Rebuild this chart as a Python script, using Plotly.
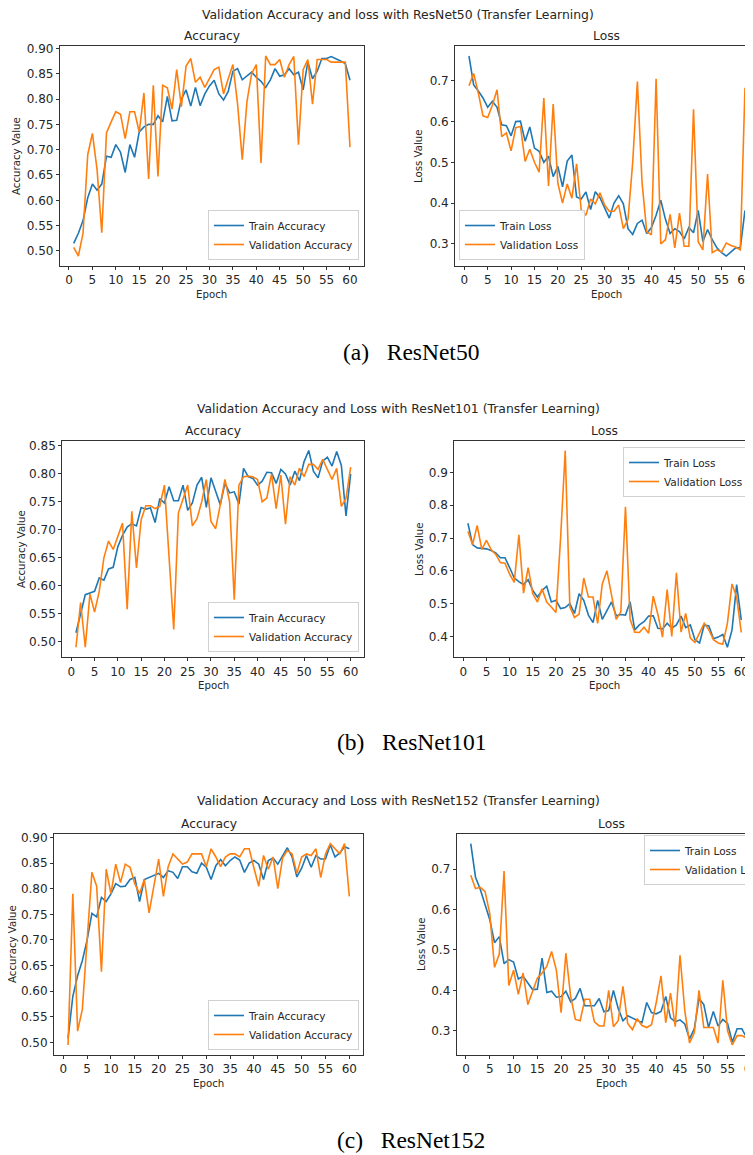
import plotly.graph_objects as go

# ---------------- data ----------------
epochs = list(range(1, 61))

r50_train_acc = [0.515, 0.535, 0.56, 0.605, 0.632, 0.62, 0.632, 0.687, 0.685, 0.71,
                 0.695, 0.655, 0.71, 0.685, 0.735, 0.745, 0.75, 0.75, 0.767, 0.755,
                 0.805, 0.757, 0.758, 0.80, 0.818, 0.786, 0.823, 0.787, 0.81, 0.826,
                 0.837, 0.81, 0.798, 0.815, 0.855, 0.86, 0.838, 0.845, 0.853, 0.843,
                 0.835, 0.823, 0.838, 0.86, 0.845, 0.848, 0.86, 0.848, 0.853, 0.818,
                 0.873, 0.84, 0.855, 0.88, 0.88, 0.884, 0.88, 0.875, 0.87, 0.837]
r50_val_acc = [0.507, 0.49, 0.535, 0.69, 0.732, 0.66, 0.536, 0.733, 0.755, 0.775,
               0.77, 0.722, 0.775, 0.775, 0.735, 0.812, 0.642, 0.827, 0.647, 0.827,
               0.822, 0.78, 0.858, 0.785, 0.865, 0.88, 0.833, 0.843, 0.823, 0.84,
               0.858, 0.863, 0.81, 0.84, 0.868, 0.79, 0.68, 0.795, 0.85, 0.868,
               0.674, 0.885, 0.868, 0.868, 0.878, 0.843, 0.868, 0.884, 0.71, 0.858,
               0.878, 0.79, 0.878, 0.878, 0.878, 0.873, 0.873, 0.873, 0.873, 0.705]
r50_train_loss = [0.761, 0.69, 0.675, 0.658, 0.635, 0.65, 0.635, 0.592, 0.59, 0.565,
                  0.60, 0.601, 0.552, 0.587, 0.535, 0.527, 0.50, 0.515, 0.465, 0.49,
                  0.44, 0.503, 0.518, 0.415, 0.41, 0.427, 0.384, 0.428, 0.413, 0.39,
                  0.363, 0.40, 0.418, 0.398, 0.337, 0.323, 0.35, 0.358, 0.325, 0.34,
                  0.37, 0.407, 0.36, 0.325, 0.337, 0.33, 0.312, 0.34, 0.327, 0.382,
                  0.305, 0.335, 0.31, 0.29, 0.278, 0.27, 0.28, 0.29, 0.29, 0.382]
r50_val_loss = [0.688, 0.718, 0.67, 0.614, 0.61, 0.64, 0.678, 0.563, 0.572, 0.528,
                0.585, 0.588, 0.502, 0.532, 0.50, 0.476, 0.658, 0.442, 0.643, 0.448,
                0.40, 0.447, 0.412, 0.496, 0.383, 0.37, 0.41, 0.398, 0.425, 0.395,
                0.38, 0.38, 0.395, 0.337, 0.36, 0.50, 0.698, 0.45, 0.33, 0.322,
                0.705, 0.30, 0.31, 0.372, 0.29, 0.375, 0.294, 0.294, 0.63, 0.305,
                0.285, 0.471, 0.278, 0.285, 0.28, 0.302, 0.296, 0.292, 0.285, 0.683]

r101_train_acc = [0.516, 0.55, 0.584, 0.587, 0.59, 0.614, 0.61, 0.63, 0.633, 0.67,
                  0.69, 0.705, 0.711, 0.707, 0.74, 0.737, 0.739, 0.713, 0.756, 0.748,
                  0.777, 0.752, 0.752, 0.78, 0.735, 0.748, 0.78, 0.794, 0.74, 0.793,
                  0.77, 0.745, 0.783, 0.766, 0.768, 0.746, 0.81, 0.795, 0.792, 0.78,
                  0.787, 0.803, 0.802, 0.783, 0.808, 0.80, 0.78, 0.805, 0.788, 0.822,
                  0.842, 0.805, 0.793, 0.823, 0.83, 0.814, 0.84, 0.815, 0.725, 0.80]
r101_val_acc = [0.49, 0.57, 0.49, 0.585, 0.553, 0.59, 0.65, 0.68, 0.665, 0.69,
                0.712, 0.558, 0.733, 0.632, 0.718, 0.743, 0.743, 0.738, 0.742, 0.78,
                0.65, 0.522, 0.73, 0.755, 0.78, 0.707, 0.72, 0.75, 0.79, 0.715,
                0.702, 0.745, 0.79, 0.75, 0.575, 0.78, 0.795, 0.796, 0.795, 0.79,
                0.75, 0.757, 0.80, 0.738, 0.798, 0.71, 0.795, 0.78, 0.81, 0.795,
                0.817, 0.817, 0.808, 0.826, 0.807, 0.79, 0.81, 0.742, 0.756, 0.812]
r101_train_loss = [0.745, 0.68, 0.67, 0.668, 0.667, 0.662, 0.655, 0.64, 0.64, 0.61,
                   0.578, 0.567, 0.558, 0.573, 0.54, 0.52, 0.54, 0.553, 0.505, 0.51,
                   0.485, 0.488, 0.50, 0.47, 0.53, 0.51, 0.465, 0.442, 0.51, 0.452,
                   0.478, 0.505, 0.463, 0.467, 0.465, 0.505, 0.42, 0.435, 0.445, 0.462,
                   0.463, 0.425, 0.423, 0.44, 0.425, 0.435, 0.462, 0.427, 0.435, 0.39,
                   0.38, 0.435, 0.432, 0.393, 0.398, 0.406, 0.367, 0.42, 0.558, 0.45]
r101_val_loss = [0.72, 0.68, 0.738, 0.665, 0.693, 0.665, 0.65, 0.625, 0.623, 0.59,
                 0.565, 0.71, 0.532, 0.61, 0.53, 0.505, 0.545, 0.505, 0.49, 0.473,
                 0.70, 0.967, 0.49, 0.458, 0.468, 0.578, 0.52, 0.52, 0.44, 0.56,
                 0.60, 0.53, 0.452, 0.475, 0.795, 0.452, 0.413, 0.412, 0.428, 0.41,
                 0.523, 0.467, 0.398, 0.543, 0.40, 0.594, 0.413, 0.47, 0.395, 0.382,
                 0.41, 0.44, 0.42, 0.39, 0.38, 0.376, 0.44, 0.56, 0.52, 0.412]

r152_train_acc = [0.508, 0.59, 0.63, 0.66, 0.70, 0.752, 0.745, 0.783, 0.775, 0.79,
                  0.81, 0.804, 0.805, 0.818, 0.822, 0.775, 0.818, 0.822, 0.825, 0.83,
                  0.822, 0.835, 0.832, 0.82, 0.843, 0.843, 0.833, 0.83, 0.85, 0.842,
                  0.818, 0.845, 0.857, 0.845, 0.855, 0.862, 0.856, 0.832, 0.85, 0.855,
                  0.848, 0.818, 0.855, 0.86, 0.848, 0.863, 0.88, 0.862, 0.823, 0.84,
                  0.865, 0.842, 0.865, 0.858, 0.858, 0.886, 0.862, 0.87, 0.882, 0.878]
r152_val_acc = [0.495, 0.79, 0.522, 0.565, 0.70, 0.832, 0.805, 0.638, 0.838, 0.79,
                0.848, 0.812, 0.848, 0.842, 0.81, 0.79, 0.818, 0.753, 0.805, 0.858,
                0.785, 0.843, 0.868, 0.858, 0.848, 0.852, 0.868, 0.868, 0.868, 0.843,
                0.878, 0.862, 0.843, 0.862, 0.868, 0.868, 0.862, 0.878, 0.878, 0.84,
                0.805, 0.865, 0.838, 0.862, 0.80, 0.86, 0.875, 0.868, 0.83, 0.862,
                0.868, 0.865, 0.878, 0.822, 0.868, 0.888, 0.878, 0.868, 0.888, 0.785]
r152_train_loss = [0.763, 0.68, 0.65, 0.61, 0.575, 0.518, 0.533, 0.466, 0.476, 0.47,
                   0.428, 0.435, 0.42, 0.402, 0.403, 0.48, 0.395, 0.398, 0.383, 0.385,
                   0.398, 0.372, 0.38, 0.405, 0.362, 0.362, 0.362, 0.38, 0.347, 0.35,
                   0.40, 0.355, 0.325, 0.337, 0.332, 0.325, 0.32, 0.37, 0.345, 0.342,
                   0.348, 0.385, 0.332, 0.322, 0.327, 0.317, 0.28, 0.305, 0.38, 0.365,
                   0.308, 0.348, 0.312, 0.328, 0.318, 0.272, 0.305, 0.305, 0.283, 0.28]
r152_val_loss = [0.685, 0.652, 0.655, 0.645, 0.59, 0.457, 0.49, 0.695, 0.412, 0.45,
                 0.39, 0.443, 0.365, 0.40, 0.43, 0.443, 0.46, 0.496, 0.45, 0.345,
                 0.492, 0.385, 0.328, 0.325, 0.378, 0.378, 0.322, 0.312, 0.312, 0.40,
                 0.31, 0.325, 0.41, 0.318, 0.303, 0.33, 0.313, 0.308, 0.315, 0.37,
                 0.436, 0.32, 0.393, 0.31, 0.487, 0.35, 0.27, 0.295, 0.40, 0.308,
                 0.308, 0.308, 0.27, 0.425, 0.30, 0.265, 0.288, 0.288, 0.282, 0.485]

x_ticks = list(range(0, 61, 5))
main_titles = ["Validation Accuracy and loss with ResNet50 (Transfer Learning)",
               "Validation Accuracy and Loss with ResNet101 (Transfer Learning)",
               "Validation Accuracy and Loss with ResNet152 (Transfer Learning)"]
captions = ["(a)   ResNet50", "(b)   ResNet101", "(c)   ResNet152"]

# ---------------- layout helpers ----------------
W, H = 753, 1155
OFF = 8          # page body margin: figure origin sits at (8, 8) of the window
BLUE, ORANGE = "#1f77b4", "#ff7f0e"
TXT = "#262626"
FONT = "DejaVu Sans"


def fx(p):
    return (p - OFF) / W


def fy(p):
    return 1 - (p - OFF) / H


def auto_range(*series):
    lo = min(min(s) for s in series)
    hi = max(max(s) for s in series)
    m = (hi - lo) * 0.05
    return [lo - m, hi + m]


XLO, XHI = -1.95, 62.95
MAXPX = W + OFF  # right edge of the figure in window pixels

# (train, val, kind, x-pixel of epoch 0, px per epoch, y-domain px, legend spec)
panels = [
    (r50_train_acc, r50_val_acc, "acc", 69.0, 4.683, (46, 266),
     dict(x=fx(359), y=fy(260), xanchor="right", yanchor="bottom")),
    (r50_train_loss, r50_val_loss, "loss", 464.3, 4.678, (46, 266),
     dict(x=fx(459), y=fy(260), xanchor="left", yanchor="bottom")),
    (r101_train_acc, r101_val_acc, "acc", 71.3, 4.656, (440.6, 657.1),
     dict(x=fx(359), y=fy(652), xanchor="right", yanchor="bottom")),
    (r101_train_loss, r101_val_loss, "loss", 463.3, 4.633, (440.6, 657.1),
     dict(x=fx(749), y=fy(447), xanchor="right", yanchor="top")),
    (r152_train_acc, r152_val_acc, "acc", 63.3, 4.767, (833.6, 1055.0),
     dict(x=fx(359), y=fy(1050), xanchor="right", yanchor="bottom")),
    (r152_train_loss, r152_val_loss, "loss", 466.0, 4.756, (833.6, 1055.0),
     dict(x=fx(644), y=fy(835), xanchor="left", yanchor="top")),
]

fig = go.Figure()
layout = dict(
    width=W, height=H,
    margin=dict(l=0, r=0, t=0, b=0, autoexpand=False),
    paper_bgcolor="white", plot_bgcolor="white",
    font=dict(family=FONT, size=12, color=TXT),
    showlegend=True,
)
annotations = []

for i, (tr, va, kind, x0, ppu, yd, leg) in enumerate(panels, start=1):
    sfx = "" if i == 1 else str(i)
    legname = "legend" if i == 1 else f"legend{i}"
    names = ("Train Accuracy", "Validation Accuracy") if kind == "acc" else ("Train Loss", "Validation Loss")
    fig.add_trace(go.Scatter(x=epochs, y=tr, mode="lines", name=names[0],
                             line=dict(color=BLUE, width=1.6),
                             xaxis="x" + sfx, yaxis="y" + sfx, legend=legname))
    fig.add_trace(go.Scatter(x=epochs, y=va, mode="lines", name=names[1],
                             line=dict(color=ORANGE, width=1.6),
                             xaxis="x" + sfx, yaxis="y" + sfx, legend=legname))

    left = x0 + XLO * ppu
    right_full = x0 + XHI * ppu
    right = min(right_full, MAXPX)
    xr = [XLO, (right - x0) / ppu]

    layout["xaxis" + sfx] = dict(
        domain=[fx(left), fx(right)], anchor="y" + sfx, range=xr,
        tickmode="array", tickvals=x_ticks, ticks="outside", ticklen=3,
        tickwidth=1, tickcolor="#333", showline=True, linecolor="#333",
        linewidth=1, mirror=True, showgrid=False, zeroline=False,
        tickfont=dict(size=12, color=TXT),
    )
    layout["yaxis" + sfx] = dict(
        domain=[fy(yd[1]), fy(yd[0])], anchor="x" + sfx,
        range=auto_range(tr, va),
        dtick=0.05 if kind == "acc" else 0.1,
        tickformat=".2f" if kind == "acc" else ".1f",
        ticks="outside", ticklen=3, tickwidth=1, tickcolor="#333",
        showline=True, linecolor="#333", linewidth=1,
        mirror=True, showgrid=False, zeroline=False,
        tickfont=dict(size=12, color=TXT),
    )
    layout[legname] = dict(
        **leg, bgcolor="rgba(255,255,255,0.85)", bordercolor="#d0d0d0",
        borderwidth=1, font=dict(size=10.5, color=TXT), itemwidth=30,
        tracegroupgap=0,
    )

    cx = (left + right_full) / 2
    annotations.append(dict(text="Accuracy" if kind == "acc" else "Loss",
                            x=fx(cx), y=fy(yd[0] - 10), xref="paper", yref="paper",
                            showarrow=False, font=dict(size=12.3, color=TXT),
                            xanchor="center", yanchor="middle"))
    annotations.append(dict(text="Epoch", x=fx(cx), y=fy(yd[1] + 28), xref="paper",
                            yref="paper", showarrow=False,
                            font=dict(size=10.2, color=TXT),
                            xanchor="center", yanchor="middle"))

# y labels
ylab_x = [17, 419, 21, 419, 12, 421]
ylab_y = [156, 156, 549, 549, 944, 944]
for i, (px, py) in enumerate(zip(ylab_x, ylab_y)):
    annotations.append(dict(text="Accuracy Value" if i % 2 == 0 else "Loss Value",
                            x=fx(px), y=fy(py), xref="paper", yref="paper",
                            showarrow=False, textangle=-90,
                            font=dict(size=10.2, color=TXT),
                            xanchor="center", yanchor="middle"))

# main titles and captions
title_y = [14.5, 408, 800]
caption_y = [352, 742, 1140]
for t, ty, c, cy in zip(main_titles, title_y, captions, caption_y):
    annotations.append(dict(text=t, x=fx(398), y=fy(ty), xref="paper", yref="paper",
                            showarrow=False, font=dict(size=12.4, color=TXT),
                            xanchor="center", yanchor="middle"))
    annotations.append(dict(text=c, x=fx(411), y=fy(cy), xref="paper", yref="paper",
                            showarrow=False,
                            font=dict(family="Liberation Serif", size=23.5, color="black"),
                            xanchor="center", yanchor="middle"))

layout["annotations"] = annotations
fig.update_layout(**layout)
fig.write_html("out.html")
